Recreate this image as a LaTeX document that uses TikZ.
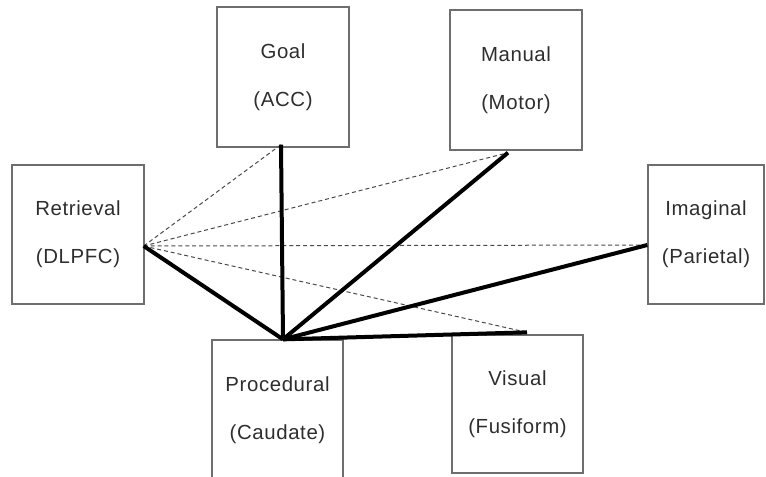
\documentclass[tikz,border=0pt]{standalone}
\usepackage{fontspec}
\setmainfont[LetterSpace=3]{Liberation Sans}
\usetikzlibrary{positioning,calc}
\definecolor{boxgray}{HTML}{6E6E6E}
\definecolor{textgray}{HTML}{2E2E2E}
\definecolor{dashgray}{HTML}{4A4A4A}
\tikzset{%
  module/.style={
    rectangle,
    draw=boxgray,
    line width=1pt,
    align=center,
    text=textgray,
    font=\fontsize{15.3}{36}\selectfont
  },
  link/.style={
    line width=3pt
  },
  dashlink/.style={
    draw=dashgray,
    line width=0.75pt,
    dash pattern=on 3pt off 2.2pt
  },
}

\begin{document}
\begin{tikzpicture}[x=0.75pt, y=-0.75pt]
        \useasboundingbox (0,0) rectangle (766,476);

        % modules: name/centre/size/label
        \foreach \n/\x/\y/\w/\h/\a/\b in {
            goal/283/77/132/140/Goal/ACC,
            manual/516/80/132/140/Manual/Motor,
            retrieval/78/234.5/132/139/Retrieval/DLPFC,
            imaginal/706/234.5/116/139/Imaginal/Parietal,
            procedural/277.5/410/131/140/Procedural/Caudate,
            visual/517.5/404/131/138/Visual/Fusiform}
          \node [module, minimum width=\w*0.75pt, minimum height=\h*0.75pt] (\n) at (\x,\y) {\a\\(\b)};

        \coordinate (hub) at ($(procedural.north)+(5.5,0)$);
        \coordinate (goal-port) at ($(goal.south)+(-2,-3)$);
        \coordinate (manual-port) at ($(manual.south)+(-8,2)$);
        \coordinate (retrieval-port) at ($(retrieval.east)+(-1,11.5)$);
        \coordinate (imaginal-port) at ($(imaginal.west)+(0,10.5)$);
        \coordinate (visual-port) at ($(visual.north)+(9.5,-2)$);

        \foreach \m in {goal,manual,imaginal,visual}
            \draw [dashlink] (retrieval-port) -- (\m-port);
        \foreach \m in {retrieval,goal,manual,imaginal,visual}
            \draw [link] (hub) -- (\m-port);
\end{tikzpicture}
\end{document}
